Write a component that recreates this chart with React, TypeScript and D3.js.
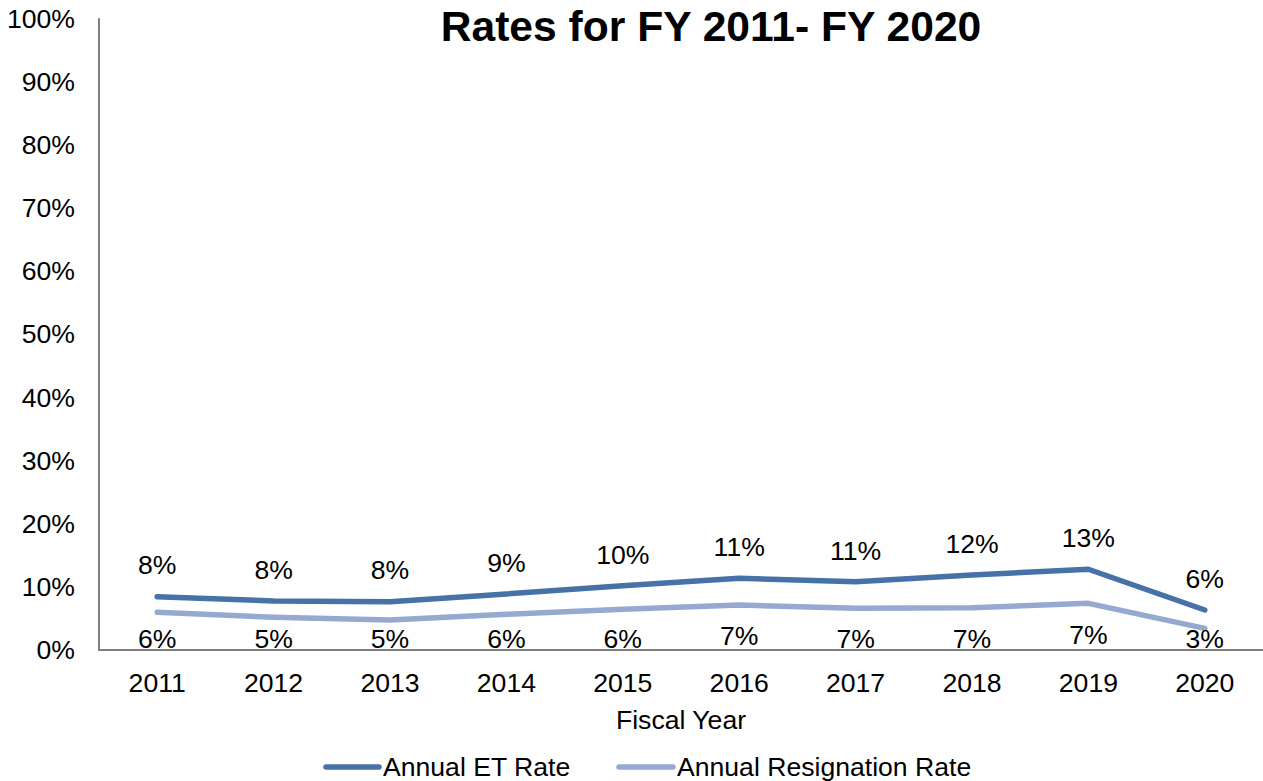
import React from "react";
import * as d3 from "d3";

const years = ["2011", "2012", "2013", "2014", "2015", "2016", "2017", "2018", "2019", "2020"];
const etRate = [0.0844, 0.0776, 0.0765, 0.0887, 0.1018, 0.1135, 0.1081, 0.1187, 0.1278, 0.0633];
const resignationRate = [0.0597, 0.0518, 0.0475, 0.0565, 0.0645, 0.0712, 0.066, 0.067, 0.0739, 0.0343];
const yTicks = [0, 0.1, 0.2, 0.3, 0.4, 0.5, 0.6, 0.7, 0.8, 0.9, 1.0];
const seriesNames = ["Annual ET Rate", "Annual Resignation Rate"];
const seriesColors = ["#4672A8", "#95A9D1"];
const titleText = "Rates for FY 2011- FY 2020";
const xTitle = "Fiscal Year";

const W = 1263;
const H = 781;
const FONT = "'Liberation Sans', Arial, sans-serif";
const FS = 26.6;

export default function App() {
  const x = d3.scaleBand<string>().domain(years).range([99, 1263]).padding(0);
  const y = d3.scaleLinear().domain([0, 1]).range([650, 18.3]);
  const cx = (d: string) => (x(d) as number) + x.bandwidth() / 2;
  const fmt = d3.format(".0%");

  const line = d3
    .line<number>()
    .x((_, i) => cx(years[i]))
    .y((v) => y(v));

  const series = [etRate, resignationRate];

  return (
    <svg
      width={W}
      height={H}
      style={{ position: "absolute", left: 0, top: 0, background: "#fff" }}
      fontFamily={FONT}
    >
      <rect x={0} y={0} width={W} height={H} fill="#fff" />
      {/* title */}
      <text x={711} y={41} textAnchor="middle" fontSize={42.6} fontWeight="bold" fill="#000">
        {titleText}
      </text>

      {/* y axis */}
      <line x1={99} x2={99} y1={y(1)} y2={y(0)} stroke="#7f7f7f" strokeWidth={2} />
      {yTicks.map((t) => (
        <text key={t} x={75} y={y(t)} dy="0.35em" textAnchor="end" fontSize={FS} fill="#000">
          {fmt(t)}
        </text>
      ))}

      {/* x axis */}
      <line x1={98} x2={1263} y1={y(0)} y2={y(0)} stroke="#7f7f7f" strokeWidth={2} />
      {years.map((yr) => (
        <text key={yr} x={cx(yr)} y={683} dy="0.35em" textAnchor="middle" fontSize={FS} fill="#000">
          {yr}
        </text>
      ))}
      <text x={681} y={720} dy="0.35em" textAnchor="middle" fontSize={FS} fill="#000">
        {xTitle}
      </text>

      {/* lines */}
      {series.map((s, si) => (
        <path
          key={si}
          d={line(s) || ""}
          fill="none"
          stroke={seriesColors[si]}
          strokeWidth={5.5}
          strokeLinecap="round"
          strokeLinejoin="round"
        />
      ))}

      {/* labels */}
      {etRate.map((v, i) => (
        <text key={"et" + i} x={cx(years[i])} y={y(v) - 31.5} dy="0.35em" textAnchor="middle" fontSize={FS} fill="#000">
          {fmt(v)}
        </text>
      ))}
      {resignationRate.map((v, i) => (
        <text
          key={"rs" + i}
          x={cx(years[i])}
          y={Math.min(y(v) + 31, 639)}
          dy="0.35em"
          textAnchor="middle"
          fontSize={FS}
          fill="#000"
        >
          {fmt(v)}
        </text>
      ))}

      {/* legend */}
      <line x1={326} x2={379} y1={767} y2={767} stroke={seriesColors[0]} strokeWidth={5.5} strokeLinecap="round" />
      <text x={383} y={767} dy="0.35em" fontSize={FS} fill="#000">
        {seriesNames[0]}
      </text>
      <line x1={619} x2={673} y1={767} y2={767} stroke={seriesColors[1]} strokeWidth={5.5} strokeLinecap="round" />
      <text x={677} y={767} dy="0.35em" fontSize={FS} fill="#000">
        {seriesNames[1]}
      </text>
    </svg>
  );
}
